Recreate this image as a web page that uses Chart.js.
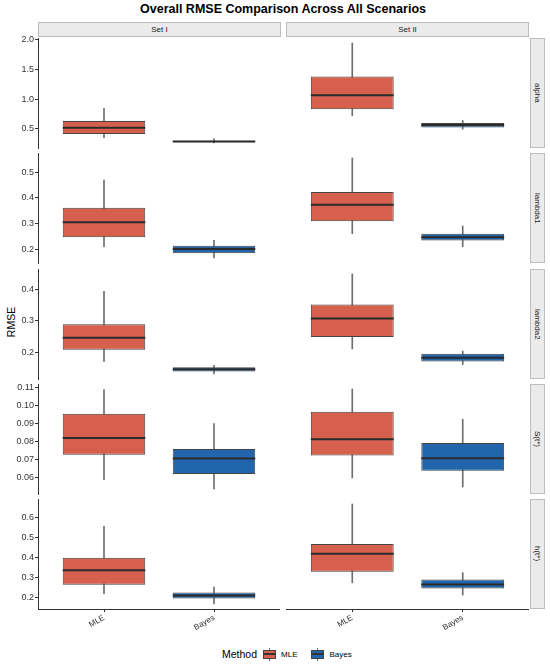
<!DOCTYPE html>
<html>
<head>
<meta charset="utf-8">
<script src="https://cdn.jsdelivr.net/npm/chart.js@4.4.1/dist/chart.umd.min.js"></script>
<style>
  html, body { margin: 0; padding: 0; background: #ffffff; }
  #root { position: relative; width: 550px; height: 665px; overflow: hidden; font-family: "Liberation Sans", Arial, sans-serif; }
  .pane { position: absolute; }
  .strip { position: absolute; background: #ebebeb; border: 1px solid #bdbdbd; box-sizing: border-box;
           display: flex; align-items: center; justify-content: center; font-size: 8px; color: #1a1a1a; }
  .strip.v span { writing-mode: vertical-rl; }
  #title { position: absolute; left: 0; width: 566px; top: 2px; text-align: center; font-weight: bold; font-size: 12.5px; color: #000; }
  #ytitle { position: absolute; left: -9px; top: 316px; width: 40px; text-align: center; font-size: 10.5px; color: #000; transform: rotate(-90deg); }
  #legend { position: absolute; top: 647px; left: 222px; height: 14px; display: flex; align-items: center; color: #000; }
  .key { position: relative; width: 13px; height: 13px; margin-right: 5px; }
  .key .box { position: absolute; left: 0; top: 2px; width: 13px; height: 9px; box-sizing: border-box; border: 1px solid #444; }
  .key .med { position: absolute; left: 0; top: 5.5px; width: 13px; height: 1.5px; background: #333; }
  .key .wh { position: absolute; left: 6px; width: 1px; height: 2px; background: #707070; }
</style>
</head>
<body>
<div id="root">
  <div id="title">Overall RMSE Comparison Across All Scenarios</div>
  <div id="ytitle">RMSE</div>
  <div id="legend">
    <span style="font-size:10.5px; margin-right:6px;">Method</span>
    <span class="key"><span class="wh" style="top:0"></span><span class="box" style="background:#d6604d"></span><span class="med"></span><span class="wh" style="top:11px"></span></span>
    <span style="font-size:8px; margin-right:14px;">MLE</span>
    <span class="key"><span class="wh" style="top:0"></span><span class="box" style="background:#2166ac"></span><span class="med"></span><span class="wh" style="top:11px"></span></span>
    <span style="font-size:8px;">Bayes</span>
  </div>
</div>
<script>
// ---------------- data ----------------
const methods = ["MLE", "Bayes"];
const sets = ["Set I", "Set II"];
const params = ["alpha", "lambda1", "lambda2", "S(t*)", "h(t*)"];
const methodColors = ["#d6604d", "#2166ac"];

// each entry: [lower whisker, Q1, median, Q3, upper whisker], one per parameter row
const mleSetI = [
  [0.353, 0.415, 0.517, 0.630, 0.846],
  [0.209, 0.246, 0.304, 0.361, 0.469],
  [0.170, 0.2075, 0.246, 0.289, 0.3935],
  [0.0591, 0.0728, 0.0820, 0.0954, 0.1087],
  [0.217, 0.262, 0.335, 0.3985, 0.556]
];
const bayesSetI = [
  [0.263, 0.276, 0.288, 0.302, 0.335],
  [0.165, 0.184, 0.200, 0.213, 0.234],
  [0.130, 0.138, 0.145, 0.1516, 0.158],
  [0.0539, 0.0622, 0.0707, 0.0759, 0.0900],
  [0.165, 0.193, 0.208, 0.223, 0.250]
];
const mleSetII = [
  [0.720, 0.831, 1.063, 1.377, 1.940],
  [0.260, 0.308, 0.373, 0.422, 0.555],
  [0.210, 0.248, 0.307, 0.352, 0.449],
  [0.0600, 0.0723, 0.0813, 0.0965, 0.1090],
  [0.272, 0.327, 0.418, 0.468, 0.669]
];
const bayesSetII = [
  [0.495, 0.525, 0.563, 0.600, 0.640],
  [0.209, 0.233, 0.246, 0.260, 0.290],
  [0.160, 0.170, 0.182, 0.1945, 0.203],
  [0.0550, 0.0639, 0.0709, 0.0792, 0.0923],
  [0.210, 0.243, 0.263, 0.288, 0.323]
];
const tickLabels = [
  ["0.5", "1.0", "1.5", "2.0"],
  ["0.2", "0.3", "0.4", "0.5"],
  ["0.2", "0.3", "0.4"],
  ["0.06", "0.07", "0.08", "0.09", "0.10", "0.11"],
  ["0.2", "0.3", "0.4", "0.5", "0.6"]
];

// ---------------- layout ----------------
const FONT = '"Liberation Sans", Arial, sans-serif';
Chart.defaults.font.family = FONT;
const panelTops = [38, 153, 269, 384, 499];
const panelH = 110;
const colLeft = [0, 286];
const colWidth = [280, 243];
const yAxisW = 38;
const xAxisH = 32;
const edgePad = 6;
const boxWidthUnits = 0.75;
const root = document.getElementById('root');

function addStrip(left, top, w, h, text, vertical) {
  const d = document.createElement('div');
  d.className = 'strip' + (vertical ? ' v' : '');
  Object.assign(d.style, { left: left + 'px', top: top + 'px', width: w + 'px', height: h + 'px' });
  const s = document.createElement('span');
  s.textContent = text;
  d.appendChild(s);
  root.appendChild(d);
}

const setData = [[mleSetI, bayesSetI], [mleSetII, bayesSetII]];

params.forEach((p, r) => {
  // shared y range for the row, ggplot-like 5% expansion
  const all = [mleSetI[r], bayesSetI[r], mleSetII[r], bayesSetII[r]].flat();
  const lo = Math.min(...all), hi = Math.max(...all);
  const pad = (hi - lo) * 0.05;
  const yMin = lo - pad, yMax = hi + pad;
  const tickVals = tickLabels[r].map(Number);
  const bottom = r === params.length - 1;

  [0, 1].forEach(c => {
    const wrap = document.createElement('div');
    wrap.className = 'pane';
    const h = panelH + edgePad + (bottom ? xAxisH : edgePad);
    Object.assign(wrap.style, { left: colLeft[c] + 'px', top: (panelTops[r] - edgePad) + 'px', width: colWidth[c] + 'px', height: h + 'px' });
    const cv = document.createElement('canvas');
    wrap.appendChild(cv);
    root.appendChild(wrap);

    const stats = setData[c].map(arr => arr[r]); // [MLE, Bayes]
    new Chart(cv, {
      type: 'bar',
      data: {
        datasets: [
          {
            type: 'scatter',
            data: stats.map((s, i) => ({ x: i + 1, y: s[2] })),
            pointStyle: 'line',
            pointRadius: ctx => {
              const sx = ctx.chart.scales.x;
              return Math.abs(sx.getPixelForValue(1 + boxWidthUnits / 2) - sx.getPixelForValue(1));
            },
            pointBorderColor: '#2b2b2b',
            pointBorderWidth: 2,
            borderColor: '#2b2b2b',
            showLine: false,
            order: 0
          },
          {
            type: 'bar',
            data: stats.map((s, i) => ({ x: i + 1, y: [s[1], s[3]] })),
            backgroundColor: methodColors,
            borderColor: '#444444',
            borderWidth: 1,
            borderSkipped: false,
            barPercentage: boxWidthUnits,
            categoryPercentage: 1,
            grouped: false,
            order: 1
          },
          {
            type: 'bar',
            data: stats.map((s, i) => ({ x: i + 1, y: [s[0], s[4]] })),
            backgroundColor: '#6e6e6e',
            barThickness: 1,
            grouped: false,
            order: 2
          }
        ]
      },
      options: {
        responsive: true,
        maintainAspectRatio: false,
        animation: false,
        events: [],
        layout: { padding: { top: edgePad, bottom: bottom ? 0 : edgePad, left: 0, right: 0 } },
        plugins: { legend: { display: false }, tooltip: { enabled: false } },
        scales: {
          x: {
            type: 'linear',
            min: 0.4, max: 2.6,
            offset: false,
            display: bottom,
            afterBuildTicks: s => { s.ticks = methods.map((m, i) => ({ value: i + 1 })); },
            afterFit: s => { s.height = bottom ? xAxisH : 0; s.paddingLeft = 0; s.paddingRight = 0; },
            ticks: {
              callback: (v, i) => methods[i],
              autoSkip: false, minRotation: 30, maxRotation: 30,
              font: { size: 8, family: FONT }, color: '#333333', padding: 1
            },
            grid: { display: true, offset: false, drawOnChartArea: false, drawTicks: true, tickLength: 3, color: '#333333' },
            border: { display: true, color: '#333333', width: 1 }
          },
          y: {
            type: 'linear',
            position: 'left',
            min: yMin, max: yMax,
            display: c === 0,
            afterBuildTicks: s => { s.ticks = tickVals.map(v => ({ value: v })); },
            afterFit: s => { s.width = c === 0 ? yAxisW : 0; s.paddingTop = 0; s.paddingBottom = 0; },
            ticks: {
              callback: (v, i) => tickLabels[r][i],
              font: { size: 9, family: FONT }, color: '#333333', padding: 1
            },
            grid: { display: true, drawOnChartArea: false, drawTicks: true, tickLength: 3, color: '#333333' },
            border: { display: true, color: '#333333', width: 1 }
          }
        }
      }
    });
  });
});

addStrip(38, 22, 243, 15, sets[0], false);
addStrip(286, 22, 243, 15, sets[1], false);
params.forEach((p, r) => addStrip(530, panelTops[r], 15, panelH, p, true));
</script>
</body>
</html>
